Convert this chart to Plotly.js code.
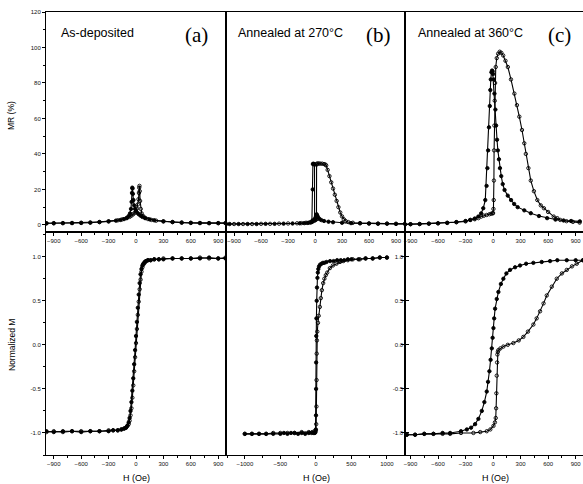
<!DOCTYPE html>
<html>
<head>
<meta charset="utf-8">
<script src="https://cdn.plot.ly/plotly-3.0.1.min.js"></script>
<style>html,body{margin:0;padding:0;background:#fff;}#chart{width:583px;height:484px;}</style>
</head>
<body>
<div id="chart"></div>
<script>
// ---------- Panel (a) MR: as-deposited ----------
const mrA_down_H = [980, 900, 800, 700, 600, 500, 400, 300, 200, 150, 100, 70, 50, 30, 15, 0, -10, -20, -28, -34, -38, -41, -44, -48, -55, -65, -80, -100, -130, -170, -220, -300, -400, -500, -600, -700, -800, -900, -980];
const mrA_down_V = [1.0, 1.0, 1.0, 1.1, 1.2, 1.3, 1.6, 2.0, 2.6, 3.1, 3.8, 4.5, 5.2, 6.0, 6.8, 7.8, 9.0, 11.0, 14.0, 17.5, 20.5, 21.0, 18.0, 13.0, 9.0, 6.5, 5.0, 4.0, 3.3, 2.8, 2.4, 2.0, 1.6, 1.3, 1.1, 1.0, 1.0, 0.9, 0.9];
const mrA_up_H = [-980, -900, -800, -700, -600, -500, -400, -300, -200, -150, -100, -70, -50, -30, -15, 0, 10, 20, 27, 32, 35, 38, 41, 45, 52, 62, 78, 100, 130, 170, 220, 300, 400, 500, 600, 700, 800, 900, 980];
const mrA_up_V = [0.9, 1.0, 1.0, 1.1, 1.2, 1.3, 1.6, 2.0, 2.6, 3.1, 3.8, 4.5, 5.2, 6.0, 6.8, 7.8, 9.2, 11.5, 14.5, 18.0, 21.0, 22.0, 19.0, 13.5, 9.0, 6.5, 5.0, 4.0, 3.3, 2.8, 2.4, 2.0, 1.6, 1.3, 1.1, 1.0, 1.0, 1.0, 1.0];

// ---------- Panel (b) MR: annealed at 270 C ----------
const mrB_down_H = [1000, 900, 800, 700, 600, 500, 400, 300, 200, 150, 100, 70, 50, 35, 25, 18, 12, 6, 0, -5, -6, -12, -18, -24, -26, -28, -35, -50, -80, -120, -170, -250, -350, -450, -550, -650, -750, -850, -950, -990];
const mrB_down_V = [0.6, 0.6, 0.7, 0.7, 0.8, 0.9, 1.0, 1.2, 1.5, 1.8, 2.2, 2.7, 3.3, 4.2, 5.2, 6.0, 5.5, 4.2, 3.3, 3.0, 34.0, 34.3, 34.5, 34.3, 20.0, 2.5, 1.6, 1.3, 1.1, 1.0, 0.9, 0.8, 0.7, 0.6, 0.6, 0.5, 0.5, 0.5, 0.5, 0.5];
const mrB_up_H = [-990, -900, -800, -700, -600, -500, -400, -300, -200, -150, -100, -60, -30, -10, 0, 10, 16, 17, 20, 30, 45, 60, 80, 100, 115, 124, 140, 160, 180, 200, 220, 240, 260, 280, 300, 320, 340, 370, 420, 500, 600, 700, 800, 900, 1000];
const mrB_up_V = [0.5, 0.5, 0.5, 0.5, 0.6, 0.6, 0.7, 0.8, 0.9, 1.0, 1.2, 1.5, 1.9, 2.3, 2.6, 3.0, 3.2, 34.0, 34.5, 34.6, 34.6, 34.5, 34.5, 34.3, 34.0, 33.5, 31.0, 27.5, 24.0, 20.5, 17.0, 13.5, 10.0, 7.0, 4.8, 3.2, 2.2, 1.6, 1.2, 1.0, 0.8, 0.7, 0.7, 0.6, 0.6];

// ---------- Panel (c) MR: annealed at 360 C ----------
const mrC_down_H = [945, 850, 768, 680, 589, 500, 411, 340, 268, 230, 196, 160, 125, 105, 89, 75, 64, 52, 43, 33, 25, 15, 7, 0, -5, -11, -18, -25, -30, -36, -45, -54, -62, -71, -85, -107, -130, -161, -200, -250, -300, -400, -500, -600, -700, -800, -900, -960];
const mrC_down_V = [2.0, 2.2, 2.5, 3.0, 3.8, 5.0, 6.6, 8.2, 10.0, 11.8, 14.0, 16.5, 19.7, 23.0, 27.5, 32.0, 37.0, 42.0, 48.0, 56.0, 65.0, 74.0, 82.0, 85.0, 86.5, 87.0, 86.0, 82.0, 76.0, 67.0, 55.0, 42.0, 32.0, 22.0, 14.0, 9.4, 6.5, 4.7, 3.6, 2.8, 2.2, 1.6, 1.2, 0.9, 0.7, 0.5, 0.4, 0.3];
const mrC_up_H = [-960, -900, -800, -700, -600, -500, -400, -300, -247, -200, -160, -129, -100, -70, -40, -20, -5, 0, 4, 7, 9, 11, 14, 18, 22, 29, 40, 55, 72, 90, 110, 135, 161, 195, 232, 260, 286, 315, 340, 357, 385, 411, 445, 482, 520, 554, 600, 661, 700, 732, 800, 870, 943];
const mrC_up_V = [0.3, 0.4, 0.5, 0.7, 0.9, 1.1, 1.5, 2.0, 2.8, 3.2, 3.8, 4.7, 5.2, 5.6, 6.0, 6.3, 6.5, 6.7, 9.0, 14.0, 25.0, 42.0, 56.0, 70.0, 80.0, 89.0, 94.0, 96.5, 97.6, 97.0, 95.5, 92.5, 89.0, 82.0, 74.0, 67.5, 61.0, 53.5, 46.0, 40.0, 32.0, 25.0, 19.0, 14.0, 11.0, 9.4, 7.3, 4.7, 3.8, 2.8, 2.1, 1.7, 1.3];

// ---------- Panel (a) M-H ----------
const mA_down_H = [980, 900, 800, 700, 600, 500, 400, 300, 250, 200, 160, 130, 110, 95, 80, 70, 60, 50, 40, 30, 20, 10, 0, -10, -20, -30, -40, -50, -60, -70, -80, -95, -110, -130, -160, -200, -250, -300, -400, -500, -600, -700, -800, -900, -980];
const mA_down_M = [0.98, 0.98, 0.99, 0.98, 0.98, 0.98, 0.98, 0.97, 0.97, 0.97, 0.96, 0.96, 0.95, 0.94, 0.92, 0.90, 0.86, 0.80, 0.70, 0.57, 0.42, 0.26, 0.10, -0.06, -0.22, -0.38, -0.52, -0.65, -0.75, -0.83, -0.88, -0.92, -0.94, -0.95, -0.96, -0.97, -0.97, -0.98, -0.98, -0.98, -0.99, -0.98, -0.98, -0.99, -0.98];
const mA_up_H = [-980, -900, -800, -700, -600, -500, -400, -300, -250, -200, -160, -130, -110, -95, -80, -70, -60, -50, -40, -30, -20, -10, 0, 10, 20, 30, 40, 50, 60, 70, 80, 95, 110, 130, 160, 200, 250, 300, 400, 500, 600, 700, 800, 900, 980];
const mA_up_M = [-0.99, -0.98, -0.99, -0.98, -0.98, -0.98, -0.98, -0.97, -0.97, -0.97, -0.96, -0.95, -0.94, -0.92, -0.90, -0.86, -0.80, -0.72, -0.60, -0.46, -0.30, -0.14, 0.02, 0.18, 0.34, 0.49, 0.63, 0.74, 0.83, 0.88, 0.91, 0.93, 0.95, 0.96, 0.96, 0.97, 0.97, 0.98, 0.98, 0.98, 0.98, 0.99, 0.98, 0.98, 0.99];

// ---------- Panel (b) M-H ----------
const mB_down_H = [1000, 900, 800, 700, 600, 500, 450, 400, 350, 300, 250, 200, 150, 120, 100, 80, 60, 45, 35, 28, 22, 16, 12, 8, 6, 4, 3, 2, 0, -5, -15, -30, -60, -100, -150, -200, -250, -300, -350, -400, -450, -500, -600, -700, -800, -900, -1000];
const mB_down_M = [0.99, 0.99, 0.98, 0.98, 0.97, 0.97, 0.97, 0.96, 0.96, 0.96, 0.95, 0.95, 0.94, 0.93, 0.93, 0.92, 0.91, 0.89, 0.86, 0.82, 0.76, 0.65, 0.50, 0.30, 0.10, -0.20, -0.50, -0.80, -0.96, -0.99, -1.00, -1.00, -1.00, -1.00, -1.01, -1.00, -1.01, -1.00, -1.00, -1.01, -1.00, -1.01, -1.01, -1.01, -1.01, -1.01, -1.01];
const mB_up_H = [-1000, -900, -800, -700, -600, -500, -400, -300, -200, -100, -50, -20, 0, 5, 8, 10, 12, 15, 20, 30, 40, 56, 70, 85, 103, 120, 140, 160, 197, 240, 290, 340, 385, 450, 520, 620, 700, 800, 900, 1000];
const mB_up_M = [-1.01, -1.01, -1.01, -1.01, -1.00, -1.00, -1.00, -1.00, -0.99, -0.99, -0.99, -0.98, -0.97, -0.90, -0.70, -0.40, -0.10, 0.05, 0.15, 0.25, 0.33, 0.43, 0.53, 0.62, 0.70, 0.75, 0.79, 0.82, 0.87, 0.90, 0.92, 0.94, 0.95, 0.96, 0.97, 0.97, 0.98, 0.98, 0.99, 0.99];

// ---------- Panel (c) M-H ----------
const mC_down_H = [980, 900, 803, 700, 621, 530, 439, 360, 294, 240, 185, 145, 112, 85, 58, 40, 22, 12, 4, -5, -14, -27, -40, -55, -69, -95, -123, -160, -196, -240, -286, -350, -468, -550, -650, -750, -850, -940];
const mC_down_M = [0.96, 0.96, 0.96, 0.96, 0.95, 0.94, 0.93, 0.92, 0.90, 0.88, 0.85, 0.81, 0.75, 0.69, 0.60, 0.52, 0.41, 0.30, 0.19, 0.08, -0.04, -0.17, -0.30, -0.42, -0.53, -0.65, -0.75, -0.84, -0.90, -0.94, -0.96, -0.98, -1.00, -1.00, -1.01, -1.01, -1.02, -1.02];
const mC_up_H = [-940, -850, -750, -650, -550, -468, -350, -214, -140, -69, -30, 4, 20, 29, 33, 36, 40, 44, 47, 52, 58, 80, 112, 160, 221, 280, 330, 380, 439, 475, 512, 550, 585, 640, 694, 750, 803, 860, 912, 980];
const mC_up_M = [-1.02, -1.02, -1.01, -1.01, -1.01, -1.01, -1.00, -1.00, -0.99, -0.98, -0.96, -0.92, -0.88, -0.83, -0.72, -0.55, -0.35, -0.20, -0.11, -0.08, -0.06, -0.04, -0.02, 0.00, 0.02, 0.05, 0.09, 0.15, 0.23, 0.30, 0.38, 0.47, 0.56, 0.66, 0.75, 0.81, 0.85, 0.89, 0.92, 0.96];

// ---------- Tick labels ----------
const hTicks300 = [-900, -600, -300, 0, 300, 600, 900];
const hTicks500 = [-1000, -500, 0, 500, 1000];
const mrTicks = [0, 20, 40, 60, 80, 100, 120];
const mTicks = [-1.0, -0.5, 0.0, 0.5, 1.0];
const mTickText = ["-1.0", "-0.5", "0.0", "0.5", "1.0"];

// ---------- Text ----------
const panelLabels = ["As-deposited", "Annealed at 270°C", "Annealed at 360°C"];
const panelLetters = ["(a)", "(b)", "(c)"];

const W = 583, Hh = 484;
const px = v => v / W;
const py = v => 1 - v / Hh;

function tr(x, y, ax, filled) {
  return {
    x: x, y: y, xaxis: 'x' + ax, yaxis: 'y' + ax,
    type: 'scatter', mode: 'lines+markers',
    line: {color: '#000', width: 1.1},
    marker: {symbol: filled ? 'circle' : 'circle-open', size: 3.4, color: '#000', line: {color: '#000', width: 0.9}},
    showlegend: false, hoverinfo: 'skip'
  };
}

const data = [
  tr(mrA_down_H, mrA_down_V, '', true), tr(mrA_up_H, mrA_up_V, '', false),
  tr(mrB_down_H, mrB_down_V, '2', true), tr(mrB_up_H, mrB_up_V, '2', false),
  tr(mrC_down_H, mrC_down_V, '3', true), tr(mrC_up_H, mrC_up_V, '3', false),
  tr(mA_down_H, mA_down_M, '4', true), tr(mA_up_H, mA_up_M, '4', false),
  tr(mB_down_H, mB_down_M, '5', true), tr(mB_up_H, mB_up_M, '5', false),
  tr(mC_down_H, mC_down_M, '6', true), tr(mC_up_H, mC_up_M, '6', false)
];

const tickFont = {family: 'Arial, Liberation Sans, sans-serif', size: 6, color: '#111'};
function axBase(extra) {
  return Object.assign({
    showline: true, linecolor: '#000', linewidth: 1, mirror: true,
    ticks: 'outside', ticklen: 3, tickwidth: 1, tickcolor: '#000',
    showgrid: false, zeroline: false, tickfont: tickFont, fixedrange: true
  }, extra);
}

const colA = [px(46), px(226)], colB = [px(226), px(405)], colC = [px(405), 1];
const rowT = [py(232), py(12)], rowB = [py(455), py(232)];
const mrRange = [-4, 120], mRange = [-1.25, 1.28];

const layout = {
  width: W, height: Hh,
  margin: {l: 0, r: 0, t: 0, b: 0},
  paper_bgcolor: '#fff', plot_bgcolor: '#fff',
  showlegend: false,
  xaxis: axBase({domain: colA, anchor: 'y', range: [-985, 985], tickvals: hTicks300, minor: {ticks: 'outside', ticklen: 2, dtick: 150, tickcolor: '#000'}}),
  yaxis: axBase({domain: rowT, anchor: 'x', range: mrRange, tickvals: mrTicks, minor: {ticks: 'outside', ticklen: 2, dtick: 10, tickcolor: '#000'}}),
  xaxis2: axBase({domain: colB, anchor: 'y2', range: [-990, 1000], tickvals: hTicks300, minor: {ticks: 'outside', ticklen: 2, dtick: 150, tickcolor: '#000'}}),
  yaxis2: axBase({domain: rowT, anchor: 'x2', range: mrRange, ticks: '', showticklabels: false}),
  xaxis3: axBase({domain: colC, anchor: 'y3', range: [-960, 980], tickvals: hTicks300, minor: {ticks: 'outside', ticklen: 2, dtick: 150, tickcolor: '#000'}}),
  yaxis3: axBase({domain: rowT, anchor: 'x3', range: mrRange, ticks: '', showticklabels: false}),
  xaxis4: axBase({domain: colA, anchor: 'y4', range: [-985, 985], tickvals: hTicks300, minor: {ticks: 'outside', ticklen: 2, dtick: 150, tickcolor: '#000'}}),
  yaxis4: axBase({domain: rowB, anchor: 'x4', range: mRange, tickvals: mTicks, ticktext: mTickText, minor: {ticks: 'outside', ticklen: 2, dtick: 0.25, tickcolor: '#000'}}),
  xaxis5: axBase({domain: colB, anchor: 'y5', range: [-1265, 1255], tickvals: hTicks500, minor: {ticks: 'outside', ticklen: 2, dtick: 250, tickcolor: '#000'}}),
  yaxis5: axBase({domain: rowB, anchor: 'x5', side: 'right', ticklabelposition: 'inside', range: mRange, tickvals: mTicks, ticktext: mTickText}),
  xaxis6: axBase({domain: colC, anchor: 'y6', range: [-960, 980], tickvals: hTicks300, minor: {ticks: 'outside', ticklen: 2, dtick: 150, tickcolor: '#000'}}),
  yaxis6: axBase({domain: rowB, anchor: 'x6', range: mRange, tickvals: mTicks, showticklabels: false}),
  annotations: []
};

const sansF = (s) => ({family: 'Arial, Liberation Sans, sans-serif', size: s, color: '#000'});
const serifF = (s) => ({family: 'Times New Roman, Liberation Serif, serif', size: s, color: '#000'});
function ann(text, x, y, font, angle) {
  return {text: text, xref: 'paper', yref: 'paper', x: px(x), y: py(y), xanchor: 'center', yanchor: 'middle', showarrow: false, font: font, textangle: angle || 0};
}
const labelX = [97, 290, 470], letterX = [196, 378, 559];
for (let i = 0; i < 3; i++) {
  layout.annotations.push(ann(panelLabels[i], labelX[i], 33, sansF(12.5)));
  layout.annotations.push(ann(panelLetters[i], letterX[i], 35, serifF(21)));
}
layout.annotations.push(ann('MR (%)', 11, 116, sansF(8.5), -90));
layout.annotations.push(ann('Normalized M', 12, 345, sansF(8.5), -90));
const hTitleX = [136, 316, 495];
for (const x of hTitleX) layout.annotations.push(ann('H (Oe)', x, 478, sansF(9)));

Plotly.newPlot('chart', data, layout, {staticPlot: true, displayModeBar: false});
</script>
</body>
</html>
